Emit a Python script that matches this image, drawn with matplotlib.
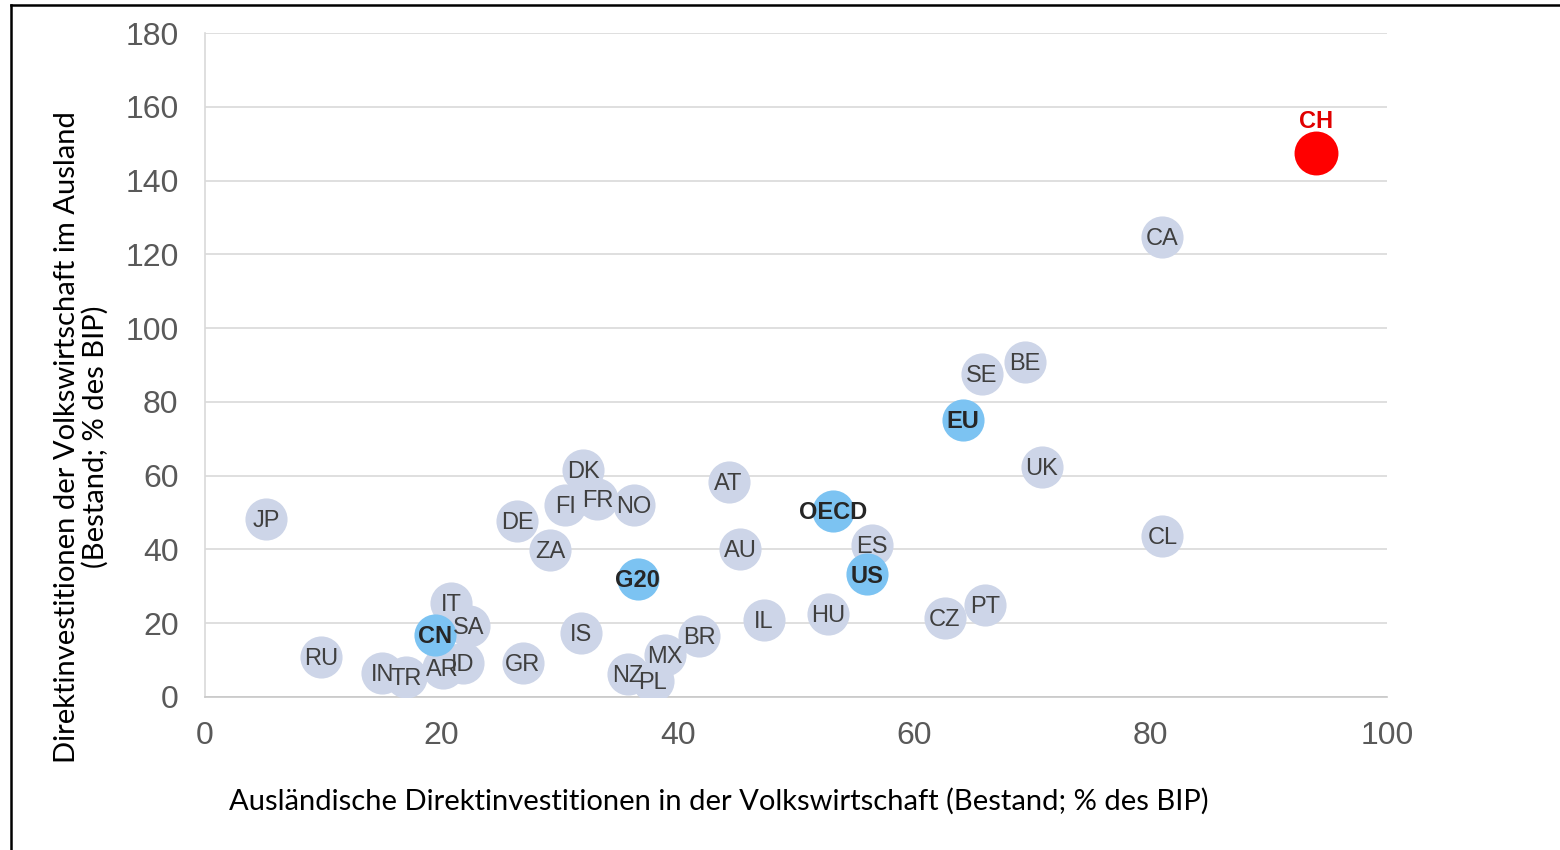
import matplotlib
matplotlib.use('Agg')
import matplotlib.pyplot as plt
from matplotlib.lines import Line2D

# Laender / Gruppen, Bestand in % des BIP
codes = ['JP', 'RU', 'IN', 'TR', 'IT', 'SA', 'AR', 'ID', 'GR', 'DE', 'ZA', 'FI', 'DK', 'FR', 'NO',
         'IS', 'NZ', 'PL', 'MX', 'BR', 'AT', 'AU', 'IL', 'HU', 'ES', 'CZ', 'PT', 'SE', 'BE', 'UK',
         'CA', 'CL']
inward = [5.2, 9.8, 15.0, 17.0, 20.8, 22.3, 20.1, 21.8, 26.9, 26.4, 29.2, 30.5, 32.0, 33.2, 36.3,
          31.8, 35.8, 37.9, 38.9, 41.8, 44.3, 45.3, 47.3, 52.7, 56.4, 62.6, 66.0, 65.7, 69.4, 70.8,
          81.0, 81.0]
outward = [48.3, 10.8, 6.5, 5.4, 25.5, 19.2, 7.9, 9.2, 9.2, 47.7, 39.8, 52.0, 61.5, 53.7, 52.0,
           17.3, 6.2, 4.3, 11.4, 16.5, 58.3, 40.1, 20.9, 22.5, 41.2, 21.4, 24.9, 87.6, 90.8, 62.3,
           124.7, 43.6]

groups = ['CN', 'G20', 'OECD', 'US', 'EU']
group_in = [19.5, 36.6, 53.1, 56.0, 64.1]
group_out = [16.8, 32.0, 50.4, 33.3, 75.1]

ch_in = 94.0
ch_out = 147.5

fig = plt.figure(figsize=(15.6, 8.5), dpi=100)
ax = fig.add_axes([0.1314, 0.18, 0.7577, 0.781])

ax.scatter(inward, outward, s=920, color='#cdd5e8', zorder=3, linewidths=0)
ax.scatter(group_in, group_out, s=920, color='#7cc3f2', zorder=3, linewidths=0)
ax.scatter([ch_in], [ch_out], s=1000, color='#ff0000', zorder=3, linewidths=0)

for c, x, y in zip(codes, inward, outward):
    ax.text(x, y - 0.5, c, ha='center', va='center', fontsize=17, color='#3f3f3f',
            family='Liberation Sans', zorder=4)
for c, x, y in zip(groups, group_in, group_out):
    ax.text(x, y - 0.5, c, ha='center', va='center', fontsize=17, color='#262626',
            family='Liberation Sans', fontweight='bold', zorder=4)
ax.text(ch_in, ch_out + 8.5, 'CH', ha='center', va='center', fontsize=17, color='#e00000',
        family='Liberation Sans', fontweight='bold', zorder=4)

ax.set_xlim(0, 100)
ax.set_ylim(0, 180)
ax.set_xticks(range(0, 101, 20))
ax.set_yticks(range(0, 181, 20))
ax.grid(axis='y', color='#d9d9d9', linewidth=1.2, zorder=0)
ax.tick_params(axis='y', length=0, labelsize=23, labelcolor='#595959', pad=19)
ax.tick_params(axis='x', length=0, labelsize=23, labelcolor='#595959', pad=17)
for lab in ax.get_xticklabels() + ax.get_yticklabels():
    lab.set_family('Liberation Sans')
for s in ['top', 'right']:
    ax.spines[s].set_visible(False)
ax.spines['left'].set_color('#d9d9d9')
ax.spines['bottom'].set_color('#c8c8c8')
ax.spines['left'].set_linewidth(1.2)
ax.spines['bottom'].set_linewidth(1.2)

fig.text(0.461, 0.057, 'Ausländische Direktinvestitionen in der Volkswirtschaft (Bestand; % des BIP)',
         ha='center', va='center', fontsize=21, family='Lato', color='black')
fig.text(0.052, 0.486, 'Direktinvestitionen der Volkswirtschaft im Ausland\n(Bestand; % des BIP)',
         ha='center', va='center', rotation=90, fontsize=21, family='Lato', color='black',
         linespacing=1.1)

# Rahmen links und oben
fig.add_artist(Line2D([0.0068, 0.0068], [0, 0.994], color='black', linewidth=1.8))
fig.add_artist(Line2D([0.0068, 1], [0.994, 0.994], color='black', linewidth=1.8))

fig.savefig('out.png', dpi=100)
